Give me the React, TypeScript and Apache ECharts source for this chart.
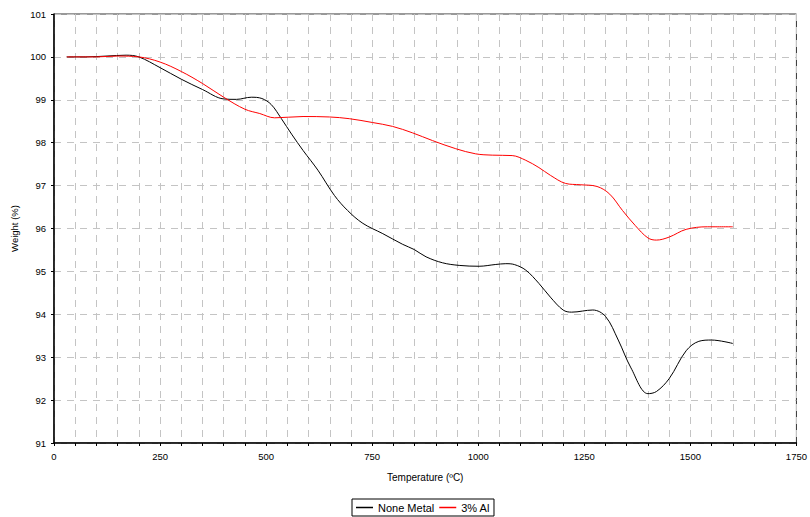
import React, { useEffect, useRef } from "react";
import * as echarts from "echarts";

const seriesNames = ["None Metal", "3% Al"];

const noneMetalT = [30, 75, 125, 170, 200, 250, 300, 350, 400, 430, 465, 490, 512, 536, 560, 587, 622, 661, 692, 728, 775, 822, 849, 877, 916, 955, 1002, 1040, 1065, 1085, 1112, 1143, 1170, 1200, 1220, 1270, 1300, 1330, 1360, 1400, 1420, 1450, 1490, 1520, 1550, 1600];
const noneMetalW = [100.0, 100.0, 100.02, 100.04, 100.0, 99.75, 99.48, 99.24, 99.02, 99.01, 99.06, 99.03, 98.89, 98.56, 98.2, 97.82, 97.36, 96.77, 96.42, 96.12, 95.88, 95.63, 95.51, 95.34, 95.2, 95.14, 95.12, 95.16, 95.18, 95.16, 95.03, 94.72, 94.4, 94.1, 94.05, 94.1, 93.95, 93.4, 92.75, 92.15, 92.2, 92.5, 93.15, 93.37, 93.4, 93.32];

const alT = [30, 100, 150, 200, 250, 300, 350, 400, 450, 485, 520, 587, 649, 696, 751, 798, 845, 892, 947, 994, 1033, 1080, 1112, 1143, 1170, 1206, 1240, 1280, 1310, 1340, 1370, 1400, 1420, 1450, 1490, 1540, 1600];
const alW = [100.0, 100.0, 100.02, 100.0, 99.88, 99.66, 99.38, 99.06, 98.78, 98.68, 98.58, 98.61, 98.6, 98.56, 98.47, 98.38, 98.23, 98.05, 97.86, 97.74, 97.71, 97.7, 97.59, 97.42, 97.24, 97.05, 97.02, 96.98, 96.8, 96.42, 96.07, 95.78, 95.73, 95.8, 95.98, 96.04, 96.04];

const xTicks = [0, 250, 500, 750, 1000, 1250, 1500, 1750];
const yTicks = [91, 92, 93, 94, 95, 96, 97, 98, 99, 100, 101];

export default function App() {
  const ref = useRef<HTMLDivElement>(null);
  useEffect(() => {
    if (!ref.current) return;
    const chart = echarts.init(ref.current, null, { renderer: "svg" });
    const font = "'Liberation Sans', Arial, sans-serif";
    const dash = { color: "#c4c4c4", width: 1, type: [7, 6] as any };
    chart.setOption({
      animation: false,
      textStyle: { fontFamily: font },
      grid: {
        left: 54,
        right: 12,
        top: 14,
        bottom: 74,
        show: true,
        borderColor: "#333",
        borderWidth: 1,
      },
      legend: {
        data: seriesNames,
        left: 352,
        top: 499,
        padding: [3, 4, 3, 4],
        borderColor: "#000",
        borderWidth: 1,
        borderRadius: 0,
        itemWidth: 17,
        itemHeight: 1.5,
        itemGap: 5,
        icon: "rect",
        textStyle: { fontFamily: font, fontSize: 11, color: "#000", padding: [0, 0, 0, 0] },
      },
      xAxis: {
        type: "value",
        min: xTicks[0],
        max: xTicks[xTicks.length - 1],
        interval: 250,
        name: "Temperature (ºC)",
        nameLocation: "middle",
        nameGap: 29,
        nameTextStyle: { fontFamily: font, fontSize: 10, color: "#000" },
        axisLine: { show: true, onZero: false, lineStyle: { color: "#000", width: 1.5 } },
        axisTick: { show: true, length: 3, lineStyle: { color: "#000" } },
        minorTick: { show: true, splitNumber: 5, length: 3, lineStyle: { color: "#000" } },
        splitLine: { show: true, lineStyle: dash },
        minorSplitLine: { show: true, lineStyle: dash },
        axisLabel: { fontFamily: font, fontSize: 9.5, color: "#000", margin: 8, formatter: (v: number) => String(v) },
      },
      yAxis: {
        type: "value",
        min: yTicks[0],
        max: yTicks[yTicks.length - 1],
        interval: 1,
        name: "Weight (%)",
        nameLocation: "middle",
        nameGap: 34,
        nameRotate: 90,
        nameTextStyle: { fontFamily: font, fontSize: 9.5, color: "#000" },
        axisLine: { show: true, onZero: false, lineStyle: { color: "#000", width: 1.5 } },
        axisTick: { show: true, length: 3, lineStyle: { color: "#000" } },
        splitLine: { show: true, lineStyle: dash },
        axisLabel: { fontFamily: font, fontSize: 9.5, color: "#000", margin: 8, formatter: (v: number) => String(v) },
      },
      series: [
        {
          name: seriesNames[0],
          type: "line",
          data: noneMetalT.map((t, i) => [t, noneMetalW[i]]),
          smooth: 0.35,
          symbol: "none",
          lineStyle: { color: "#000", width: 1 },
          itemStyle: { color: "#000" },
        },
        {
          name: seriesNames[1],
          type: "line",
          data: alT.map((t, i) => [t, alW[i]]),
          smooth: 0.35,
          symbol: "none",
          lineStyle: { color: "#ff0000", width: 1 },
          itemStyle: { color: "#ff0000" },
        },
      ],
    });
    return () => chart.dispose();
  }, []);
  return <div ref={ref} style={{ width: 810, height: 517, position: "absolute", left: 0, top: 0 }} />;
}
